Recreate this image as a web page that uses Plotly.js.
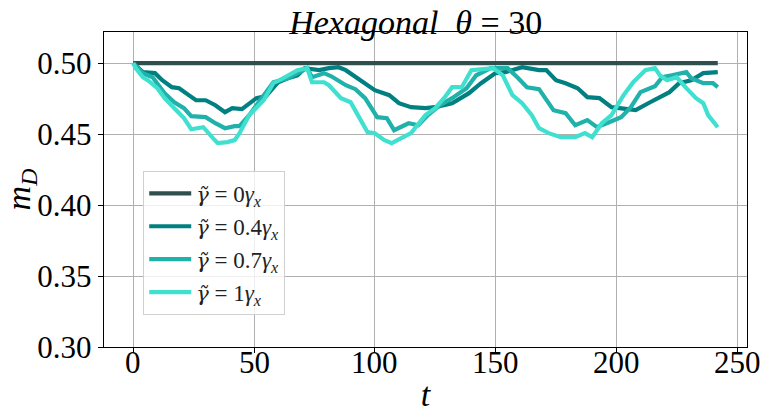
<!DOCTYPE html>
<html>
<head>
<meta charset="utf-8">
<script src="https://cdn.plot.ly/plotly-3.0.1.min.js"></script>
<style>
  html, body { margin: 0; padding: 0; background: #fff; }
  #chart { width: 760px; height: 413px; }
</style>
</head>
<body>
<div id="chart"></div>
<script>
// Order parameter m_D over time for four coupling strengths
const gt = "<span style='font-family:DejaVu Serif;font-size:21px'><i>γ̃</i></span>";
const seriesNames = [
  gt + " = 0<i>γ</i><sub><i>x</i></sub>",
  gt + " = 0.4<i>γ</i><sub><i>x</i></sub>",
  gt + " = 0.7<i>γ</i><sub><i>x</i></sub>",
  gt + " = 1<i>γ</i><sub><i>x</i></sub>"
];
const seriesColors = ["#2F4F4F", "#008080", "#20B2AA", "#40E0D0"];

const t0 = [0, 242];
const m0 = [0.5, 0.5];

const t04 = [0, 4, 9, 12, 16, 19, 23, 26, 30, 34, 38, 41, 45, 51, 55, 60, 64, 68, 71, 77, 81, 85, 88, 92, 96, 100, 106, 110, 115, 121, 125, 132, 139, 144, 150, 154, 161, 168, 171, 175, 179, 184, 188, 193, 198, 203, 208, 214, 218, 222, 226, 231, 236, 240, 242];
const m04 = [0.5000, 0.4937, 0.4930, 0.4880, 0.4831, 0.4824, 0.4775, 0.4739, 0.4739, 0.4704, 0.4655, 0.4683, 0.4676, 0.4754, 0.4768, 0.4866, 0.4894, 0.4915, 0.4965, 0.4951, 0.4965, 0.4972, 0.4951, 0.4901, 0.4859, 0.4810, 0.4775, 0.4718, 0.4690, 0.4683, 0.4690, 0.4718, 0.4789, 0.4859, 0.4930, 0.4937, 0.4972, 0.4951, 0.4951, 0.4880, 0.4859, 0.4824, 0.4761, 0.4754, 0.4690, 0.4683, 0.4669, 0.4725, 0.4761, 0.4796, 0.4859, 0.4880, 0.4930, 0.4937, 0.4937];

const t07 = [0, 4, 8, 10, 13, 17, 21, 24, 30, 34, 38, 42, 44, 48, 52, 58, 64, 69, 72, 74, 79, 82, 88, 92, 96, 101, 105, 108, 114, 118, 122, 127, 132, 138, 142, 148, 155, 159, 163, 168, 172, 174, 179, 183, 188, 192, 196, 202, 206, 210, 216, 219, 223, 229, 231, 236, 240, 242];
const m07 = [0.5000, 0.4930, 0.4901, 0.4859, 0.4789, 0.4725, 0.4683, 0.4627, 0.4620, 0.4577, 0.4542, 0.4556, 0.4556, 0.4634, 0.4725, 0.4866, 0.4894, 0.4937, 0.4965, 0.4901, 0.4930, 0.4908, 0.4845, 0.4817, 0.4754, 0.4620, 0.4613, 0.4528, 0.4577, 0.4563, 0.4634, 0.4704, 0.4754, 0.4824, 0.4915, 0.4965, 0.4965, 0.4901, 0.4831, 0.4817, 0.4725, 0.4669, 0.4648, 0.4563, 0.4599, 0.4549, 0.4577, 0.4620, 0.4690, 0.4796, 0.4838, 0.4901, 0.4915, 0.4937, 0.4894, 0.4859, 0.4859, 0.4831];

const t1 = [0, 1, 4, 6, 10, 13, 17, 21, 24, 29, 33, 35, 39, 42, 44, 48, 54, 58, 62, 68, 72, 74, 79, 81, 86, 90, 93, 97, 100, 104, 107, 111, 115, 121, 125, 129, 132, 136, 140, 149, 153, 157, 161, 165, 168, 172, 177, 183, 187, 190, 194, 198, 203, 207, 212, 216, 218, 221, 225, 229, 233, 236, 238, 242];
const m1 = [0.5000, 0.4965, 0.4901, 0.4880, 0.4824, 0.4754, 0.4683, 0.4613, 0.4535, 0.4549, 0.4472, 0.4437, 0.4444, 0.4458, 0.4507, 0.4634, 0.4739, 0.4859, 0.4894, 0.4951, 0.4965, 0.4866, 0.4866, 0.4845, 0.4754, 0.4725, 0.4634, 0.4514, 0.4507, 0.4458, 0.4437, 0.4472, 0.4507, 0.4634, 0.4683, 0.4761, 0.4831, 0.4831, 0.4951, 0.4965, 0.4915, 0.4775, 0.4718, 0.4634, 0.4542, 0.4507, 0.4479, 0.4479, 0.4507, 0.4479, 0.4577, 0.4634, 0.4775, 0.4866, 0.4951, 0.4965, 0.4915, 0.4880, 0.4901, 0.4824, 0.4754, 0.4718, 0.4634, 0.4549];

const xTicks = [0, 50, 100, 150, 200, 250];
const yTicks = [0.30, 0.35, 0.40, 0.45, 0.50];

const tData = [t0, t04, t07, t1];
const mData = [m0, m04, m07, m1];

const traces = tData.map((tt, i) => ({
  x: tt,
  y: mData[i],
  type: "scatter",
  mode: "lines",
  name: seriesNames[i],
  line: { color: seriesColors[i], width: 4.2 }
}));

const serif = "Liberation Serif, Times New Roman, serif";
const tickFont = { family: serif, size: 31, color: "#000" };

const axisCommon = {
  showline: true,
  linecolor: "#000",
  linewidth: 1.3,
  mirror: true,
  ticks: "outside",
  ticklen: 5,
  tickwidth: 1,
  tickcolor: "#000",
  showgrid: true,
  gridcolor: "#b0b0b0",
  gridwidth: 1,
  zeroline: false,
  tickfont: tickFont
};

// x tick labels sit close under the axis, placed on the x scale
const xTickLabels = xTicks.map(v => ({
  x: v,
  xref: "x",
  y: 0,
  yref: "paper",
  yanchor: "top",
  yshift: 4,
  text: String(v),
  showarrow: false,
  font: tickFont
}));

const layout = {
  width: 760,
  height: 413,
  margin: { l: 104, r: 13, t: 32, b: 66 },
  paper_bgcolor: "#fff",
  plot_bgcolor: "#fff",
  showlegend: true,
  title: {
    text: "<i>Hexagonal</i>  <i>θ</i> = 30",
    font: { family: serif, size: 34, color: "#000" },
    x: 0.547,
    xanchor: "center",
    y: 0.975,
    yanchor: "top"
  },
  xaxis: Object.assign({}, axisCommon, {
    range: [-12.1, 254.1],
    tickvals: xTicks,
    showticklabels: false,
    title: { text: "<i>t</i>", font: { family: serif, size: 34, color: "#000" }, standoff: 36 }
  }),
  yaxis: Object.assign({}, axisCommon, {
    range: [0.3, 0.522],
    tickvals: yTicks,
    ticktext: yTicks.map(v => v.toFixed(2)),
    title: { text: "<i>m</i><sub><i>D</i></sub>", font: { family: serif, size: 34, color: "#000" }, standoff: 12 }
  }),
  annotations: xTickLabels,
  legend: {
    x: 0.061,
    y: 0.559,
    xanchor: "left",
    yanchor: "top",
    bgcolor: "rgba(255,255,255,0.8)",
    bordercolor: "#d0d0d0",
    borderwidth: 1,
    itemwidth: 42,
    font: { family: serif, size: 23, color: "#222" }
  }
};

Plotly.newPlot("chart", traces, layout, { staticPlot: true, displayModeBar: false });
</script>
</body>
</html>
